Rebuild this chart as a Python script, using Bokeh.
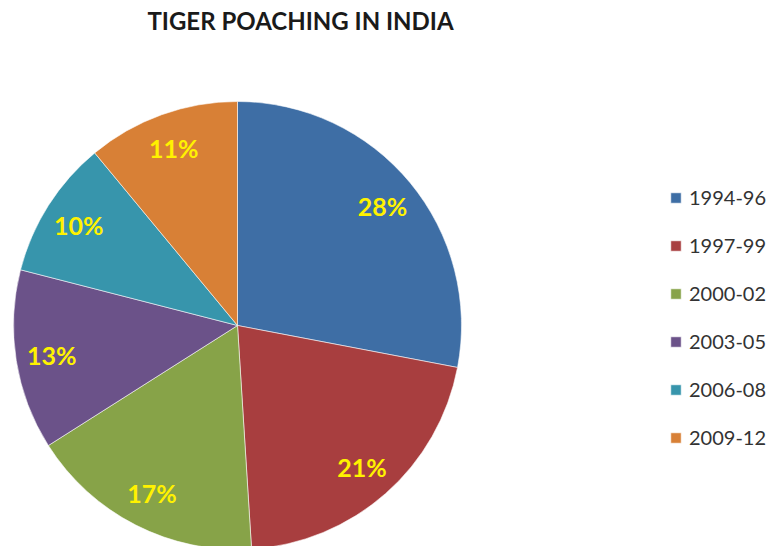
import math
from bokeh.plotting import figure
from bokeh.models import ColumnDataSource, Range1d, Legend, LegendItem, Label
from bokeh.core.properties import value
from bokeh.embed import file_html
from bokeh.resources import INLINE

# ---- data ----
periods = ["1994-96", "1997-99", "2000-02", "2003-05", "2006-08", "2009-12"]
shares = [28, 21, 17, 13, 10, 11]
colors = ["#3E6EA5", "#A83E3F", "#87A348", "#6B5289", "#3795AC", "#D88036"]
title_text = "TIGER POACHING IN INDIA"

# ---- layout (1 data unit = 1 px) ----
W, H = 767, 546
cx, cy, R = 237, 221, 224
label_r = 0.84 * R

total = sum(shares)
starts, ends, lx, ly, labels = [], [], [], [], []
cum = 0.0
for s in shares:
    a0 = math.pi / 2 - 2 * math.pi * cum / total
    cum += s
    a1 = math.pi / 2 - 2 * math.pi * cum / total
    starts.append(a0)
    ends.append(a1)
    mid = (a0 + a1) / 2
    lx.append(cx + label_r * math.cos(mid))
    ly.append(cy + label_r * math.sin(mid))
    labels.append(f"{s}%")

src = ColumnDataSource(dict(start=starts, end=ends, color=colors, period=periods,
                            lx=lx, ly=ly, lab=labels))

p = figure(width=W, height=H, output_backend="svg", toolbar_location=None,
           x_range=Range1d(0, W), y_range=Range1d(0, H),
           min_border=0, outline_line_color=None)
p.axis.visible = False
p.grid.visible = False
p.background_fill_color = "white"
p.border_fill_color = "white"

r = p.wedge(x=cx, y=cy, radius=R, start_angle="start", end_angle="end",
            direction="clock", fill_color="color", line_color="white",
            line_width=0.8, line_alpha=0.7, source=src)

p.text(x="lx", y="ly", text="lab", source=src, text_color="#FFF200",
       text_font=value("Lato"), text_font_style="bold", text_font_size="25px",
       text_align="center", text_baseline="middle")

p.add_layout(Label(x=300, y=526, text=title_text, text_font="Lato",
                   text_font_style="bold", text_font_size="24px",
                   text_color="#1A1A1A", text_align="center",
                   text_baseline="middle"))

items = [LegendItem(label=periods[i], renderers=[r], index=i) for i in range(len(periods))]
legend = Legend(items=items, location=(669, 96), orientation="vertical",
                glyph_width=13, glyph_height=13, label_height=26,
                spacing=22, padding=0, margin=0, label_standoff=7,
                label_text_font="Lato", label_text_font_size="20px",
                label_text_color="#333333", border_line_color=None,
                background_fill_alpha=0)
p.add_layout(legend)

open("out.html", "w").write(file_html(p, INLINE))
